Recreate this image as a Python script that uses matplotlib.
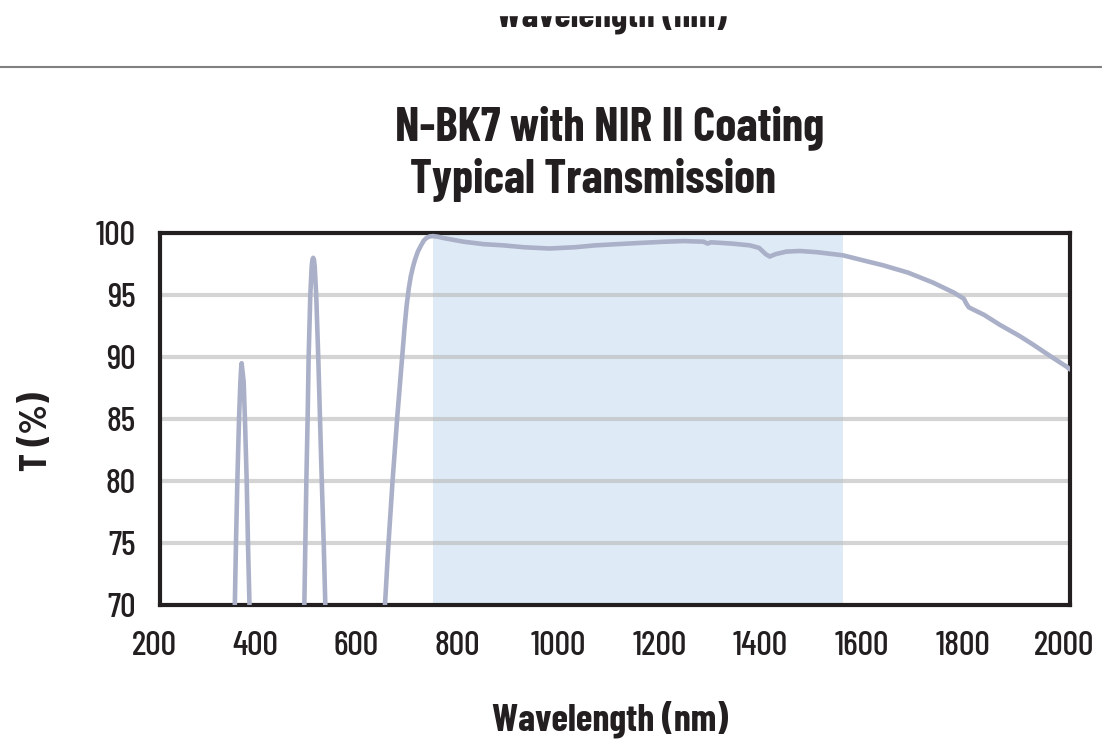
import matplotlib
matplotlib.use("Agg")
import matplotlib.pyplot as plt
from matplotlib.patches import Rectangle
from matplotlib.transforms import ScaledTranslation

# ---- data ----
wavelength_nm = [340, 348, 350.3, 353, 356.3, 359, 360.3, 361.5, 362.8, 365.5, 368, 371.5, 374, 377, 385,
                 480, 485.5, 487.5, 489.5, 492, 494, 497.3, 500, 501.5, 503, 504.5, 506, 509, 513, 516.5,
                 520, 523.8, 527, 535,
                 640, 645, 652, 660, 669, 674, 679, 684, 688, 692, 696, 700, 704, 710, 717, 722, 727,
                 733, 740, 750,
                 760, 800, 840, 880, 920, 970, 1020, 1060, 1104, 1150, 1200, 1235, 1275, 1283, 1290,
                 1330, 1367, 1385, 1398, 1406, 1418, 1439, 1466, 1500, 1551, 1600, 1630, 1680, 1729,
                 1770, 1790, 1795, 1800, 1830, 1861, 1900, 1927, 1960, 1994, 2000]
transmission = [60, 70, 75, 80, 85, 88, 89.0, 89.5, 89.0, 88, 85, 80, 75, 70, 60,
                60, 70, 75, 80, 85, 90, 95, 97.3, 97.85, 98.0, 97.85, 97.3, 95, 90, 85,
                80, 75, 70, 60,
                62, 70, 75, 80, 85, 87.5, 90, 92.5, 94.2, 95.5, 96.5, 97.2, 97.8, 98.5, 99.05, 99.4, 99.6,
                99.72, 99.75, 99.7,
                99.6, 99.3, 99.1, 99.0, 98.85, 98.75, 98.85, 99.0, 99.1, 99.2, 99.3, 99.35, 99.3, 99.15, 99.25,
                99.15, 99.0, 98.8, 98.3, 98.1, 98.3, 98.5, 98.55, 98.45, 98.2, 97.7, 97.4, 96.8, 96.0,
                95.2, 94.7, 94.3, 94.0, 93.4, 92.6, 91.7, 91.0, 90.1, 89.2, 89.0]
band_nm = [740, 1550]
x_ticks = [200, 400, 600, 800, 1000, 1200, 1400, 1600, 1800, 2000]
y_ticks = [70, 75, 80, 85, 90, 95, 100]
title_lines = ["N-BK7 with NIR II Coating", "Typical Transmission"]
xlabel = "Wavelength (nm)"
ylabel = "T (%)"

BOLD = ["Barlow Condensed", "Fira Sans Extra Condensed", "DejaVu Sans"]
TICK = ["Barlow Condensed", "Fira Sans Extra Condensed", "DejaVu Sans"]
plt.rcParams["font.family"] = TICK

W, H = 1102, 750
fig = plt.figure(figsize=(W/100, H/100), dpi=100)
ax = fig.add_axes([160/W, 1-605/H, 910/W, 372/H])

ax.axvspan(band_nm[0], band_nm[1], color="#deebf6", zorder=0, lw=0)
for yv in y_ticks[1:-1]:
    ax.axhline(yv, color="#b8b8b8", lw=3, alpha=0.6, zorder=1)
ax.plot(wavelength_nm, transmission, color="#aab0c8", lw=3.3, zorder=3,
        solid_joinstyle="round", solid_capstyle="round")

ax.set_xlim(200, 2000)
ax.set_ylim(70, 100)
ax.set_xticks(x_ticks)
ax.set_yticks(y_ticks)
ax.tick_params(length=0, labelsize=24, colors="#231f20")
ax.tick_params(axis="x", pad=19)
ax.tick_params(axis="y", pad=17.5)
for s in ax.spines.values():
    s.set_linewidth(3)
    s.set_color("#231f20")
off = ScaledTranslation(-6/100, 0, fig.dpi_scale_trans)
for lab in ax.get_xticklabels():
    lab.set_fontweight(500)
    lab.set_transform(lab.get_transform() + off)
for lab in ax.get_yticklabels():
    lab.set_fontweight(500)

t1 = fig.text(610/W, 1-140/H, title_lines[0], ha="center", va="baseline",
              fontsize=32, fontweight="bold", family=BOLD, color="#231f20")
t2 = fig.text(593.5/W, 1-193/H, title_lines[1], ha="center", va="baseline",
              fontsize=32, fontweight="bold", family=BOLD, color="#231f20")
xl = fig.text(610/W, 1-730/H, xlabel, ha="center", va="baseline",
              fontsize=27, fontweight="bold", family=BOLD, color="#231f20")
yl = fig.text(36.5/W, 1-432/H, ylabel, ha="center", va="center", rotation=90,
              fontsize=27, fontweight="bold", family=BOLD, color="#231f20")
top = fig.text(612/W, 1-26/H, xlabel, ha="center", va="baseline",
               fontsize=27, fontweight="bold", family=BOLD, color="#231f20")

fig.canvas.draw()
r = fig.canvas.get_renderer()
def fit(t, target, use_h=False):
    bb = t.get_window_extent(r)
    cur = bb.height if use_h else bb.width
    t.set_fontsize(t.get_fontsize() * target / cur)
fit(t1, 430)
fit(t2, 367)
fit(xl, 236)
fit(top, 231)
fit(yl, 79, use_h=True)
# tick label size from the width of "200"
bb = ax.get_xticklabels()[0].get_window_extent(r)
ax.tick_params(labelsize=24 * 45 / bb.width)

# masked remnant at the very top, and separator rule
fig.add_artist(Rectangle((0, 1-15/H), 1, 15/H, transform=fig.transFigure,
                         color="white", zorder=10))
fig.add_artist(plt.Line2D([0, 1], [1 - 67/H, 1 - 67/H], color="#808080", lw=1.5,
                          transform=fig.transFigure))

fig.savefig("out.png", dpi=100)
